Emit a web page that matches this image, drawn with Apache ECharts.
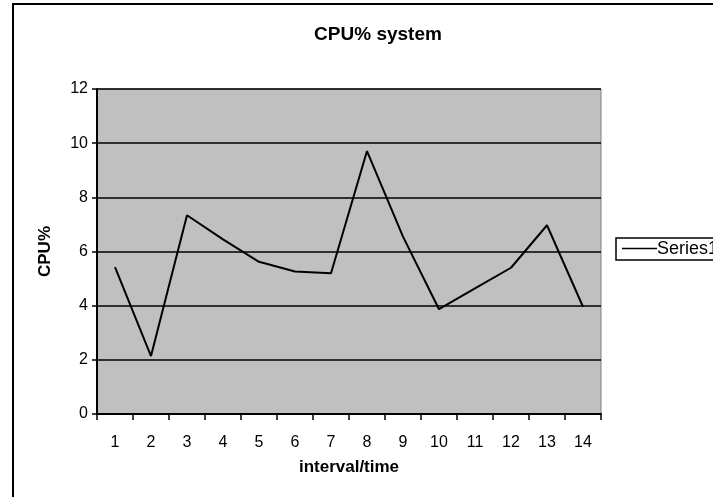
<!DOCTYPE html>
<html>
<head>
<meta charset="utf-8">
<script src="https://cdn.jsdelivr.net/npm/echarts@6/dist/echarts.min.js"></script>
<style>
  html, body { margin: 0; padding: 0; background: #fff; }
  #chart { width: 713px; height: 497px; }
</style>
</head>
<body>
<div id="chart"></div>
<script>
// interval numbers on the x axis
var intervals = ['1', '2', '3', '4', '5', '6', '7', '8', '9', '10', '11', '12', '13', '14'];
// CPU% system
var cpuSystem = [5.42, 2.14, 7.34, 6.45, 5.62, 5.26, 5.2, 9.71, 6.55, 3.87, 4.64, 5.4, 6.97, 3.96];
var seriesName = 'Series1';

var chart = echarts.init(document.getElementById('chart'));
var font = 'Liberation Sans, Arial, sans-serif';

var option = {
  backgroundColor: '#fff',
  animation: false,
  title: {
    text: 'CPU% system',
    left: 373,
    top: 20,
    textAlign: 'center',
    textStyle: { fontFamily: font, fontSize: 19, fontWeight: 'bold', color: '#000' }
  },
  // legend box drawn by hand, it runs off the right edge like the original
  graphic: [
    {
      type: 'rect',
      shape: { x: 13, y: 4, width: 760, height: 560 },
      style: { fill: 'none', stroke: '#000', lineWidth: 2 },
      silent: true,
      z: 100
    },
    {
      type: 'rect',
      shape: { x: 616, y: 238, width: 150, height: 22 },
      style: { fill: '#fff', stroke: '#000', lineWidth: 1.5 },
      silent: true
    },
    {
      type: 'line',
      shape: { x1: 622, y1: 248.5, x2: 657, y2: 248.5 },
      style: { stroke: '#000', lineWidth: 1.5 },
      silent: true
    },
    {
      type: 'text',
      x: 657,
      y: 249,
      style: {
        text: seriesName,
        font: '18px ' + font,
        fill: '#000',
        verticalAlign: 'middle'
      },
      silent: true
    }
  ],
  grid: {
    left: 97,
    top: 89,
    width: 504,
    height: 325,
    show: true,
    backgroundColor: '#c0c0c0',
    borderColor: '#808080',
    borderWidth: 1
  },
  xAxis: {
    type: 'category',
    data: intervals,
    boundaryGap: true,
    name: 'interval/time',
    nameLocation: 'middle',
    nameGap: 45,
    nameTextStyle: { fontFamily: font, fontSize: 17, fontWeight: 'bold', color: '#000' },
    axisLine: { lineStyle: { color: '#000', width: 2 } },
    axisTick: { show: true, length: 6, lineStyle: { color: '#000', width: 1.5 } },
    axisLabel: { fontFamily: font, fontSize: 16, color: '#000', margin: 21 },
    splitLine: { show: false }
  },
  yAxis: {
    type: 'value',
    min: 0,
    max: 12,
    interval: 2,
    name: 'CPU%',
    nameLocation: 'middle',
    nameGap: 43,
    nameRotate: 90,
    nameTextStyle: { fontFamily: font, fontSize: 17, fontWeight: 'bold', color: '#000' },
    axisLine: { show: true, lineStyle: { color: '#000', width: 2 } },
    axisTick: { show: true, length: 5, lineStyle: { color: '#000', width: 1.5 } },
    axisLabel: { fontFamily: font, fontSize: 16, color: '#000', margin: 9 },
    splitLine: { show: true, lineStyle: { color: '#000', width: 1.5 } }
  },
  series: [{
    name: seriesName,
    type: 'line',
    data: cpuSystem,
    symbol: 'none',
    lineStyle: { color: '#000', width: 2 },
    itemStyle: { color: '#000' }
  }]
};

chart.setOption(option);
</script>
</body>
</html>
